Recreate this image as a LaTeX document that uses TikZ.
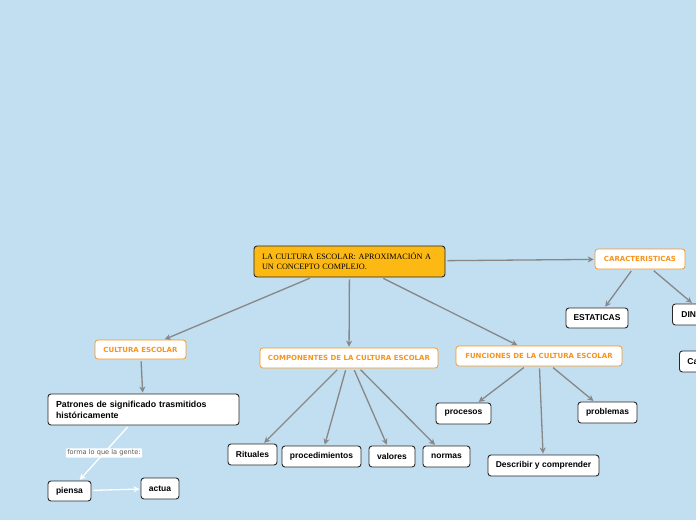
\documentclass[tikz,border=0pt]{standalone}
\usepackage{fontspec}
\setmainfont{Liberation Sans}
\newfontfamily\verd{DejaVu Sans}
\newfontfamily\tms{Liberation Serif}
\usetikzlibrary{arrows.meta}
\definecolor{bg}{RGB}{194,222,241}
\definecolor{rootfill}{RGB}{253,185,19}
\definecolor{orng}{RGB}{247,148,29}
\definecolor{conn}{RGB}{135,135,135}
\definecolor{bord}{RGB}{40,40,40}
\tikzset{
  x=1pt,y=-1pt,
  blk/.style={draw=bord,line width=0.9pt,fill=white,rounded corners=3pt,inner sep=0pt,minimum height=20pt,font=\fontsize{8.5}{9}\selectfont\bfseries},
  org/.style={draw=orng,line width=0.7pt,fill=white,rounded corners=3pt,inner sep=0pt,minimum height=19pt,text=orng,font=\verd\fontsize{7}{8}\selectfont\bfseries},
  conn/.style={draw=conn,line width=1.3pt,-{Stealth[length=6pt,width=6pt]},shorten >=1pt,shorten <=2pt},
  wconn/.style={draw=white,line width=1.3pt,-{Stealth[length=6pt,width=6pt]},shorten >=1pt,shorten <=2pt},
}
\begin{document}
\begin{tikzpicture}
\useasboundingbox (0,0) rectangle (696,520);
\fill[bg] (0,0) rectangle (696,520);
\clip (0,0) rectangle (696,520);
% root
\node[draw=bord,line width=0.9pt,fill=rootfill,rounded corners=3pt,minimum width=191pt,minimum height=31pt,inner sep=0pt,text width=175pt,align=left,font=\tms\fontsize{8.2}{10}\selectfont] (root) at (349.5,261.5) {LA CULTURA ESCOLAR: APROXIMACIÓN A\\UN CONCEPTO COMPLEJO.};
% caracteristicas
\node[org,minimum width=90pt,minimum height=20pt] (car) at (640,259) {CARACTERISTICAS};
\node[blk,minimum width=62pt] (est) at (597,318) {ESTATICAS};
\node[blk,minimum height=21pt,anchor=west,inner xsep=9pt] (din) at (672,314.5) {DINAMICAS};
\node[blk,minimum height=21pt,anchor=west,inner xsep=8pt] (ca) at (679,361.5) {Cambiantes};
% cultura escolar
\node[org,minimum width=91pt] (cul) at (140.5,349.5) {CULTURA ESCOLAR};
\node[blk,minimum width=191pt,minimum height=31pt,text width=175pt,align=left,font=\fontsize{8.8}{11}\selectfont\bfseries] (pat) at (143.5,409.5) {Patrones de significado trasmitidos\\históricamente};
\node[blk,minimum width=43pt] (pie) at (69.5,491) {piensa};
\node[blk,minimum width=38pt,minimum height=21pt] (act) at (160,488.5) {actua};
% componentes
\node[org,minimum width=178pt,minimum height=20pt] (comp) at (349,358) {COMPONENTES DE LA CULTURA ESCOLAR};
\node[blk,minimum width=49pt,minimum height=21pt] (rit) at (252.5,454.5) {Rituales};
\node[blk,minimum width=79pt,minimum height=21pt] (proc) at (321.5,456.5) {procedimientos};
\node[blk,minimum width=46pt,minimum height=21pt] (val) at (392,456.5) {valores};
\node[blk,minimum width=47pt,minimum height=21pt] (nor) at (446.5,456.5) {normas};
% funciones
\node[org,minimum width=166pt,minimum height=20pt] (fun) at (539,356) {FUNCIONES DE LA CULTURA ESCOLAR};
\node[blk,minimum width=55pt,minimum height=21pt] (pros) at (463.5,413.5) {procesos};
\node[blk,minimum width=59pt,minimum height=21pt] (prob) at (607.5,412.5) {problemas};
\node[blk,minimum width=111pt,minimum height=21pt] (des) at (543.5,465.5) {Describir y comprender};
% connectors
\draw[conn] (root) -- (car);
\draw[conn] (root) -- (cul);
\draw[conn] (root) -- (comp);
\draw[conn] (root) -- (fun);
\draw[conn] (car) -- (est);
\draw[conn] (car) -- (din);
\draw[conn] (cul) -- (pat);
\draw[conn] (comp) -- (rit);
\draw[conn] (comp) -- (proc);
\draw[conn] (comp) -- (val);
\draw[conn] (comp) -- (nor);
\draw[conn] (fun) -- (pros);
\draw[conn] (fun) -- (des);
\draw[conn] (fun) -- (prob);
\draw[wconn] (pat) -- (pie);
\draw[wconn] (pie) -- (act);
\node[fill=white,inner sep=1.5pt,rounded corners=1pt,text=black!65,font=\verd\fontsize{6.6}{7}\selectfont] (lab) at (104,453) {forma lo que la gente:};
\end{tikzpicture}
\end{document}
